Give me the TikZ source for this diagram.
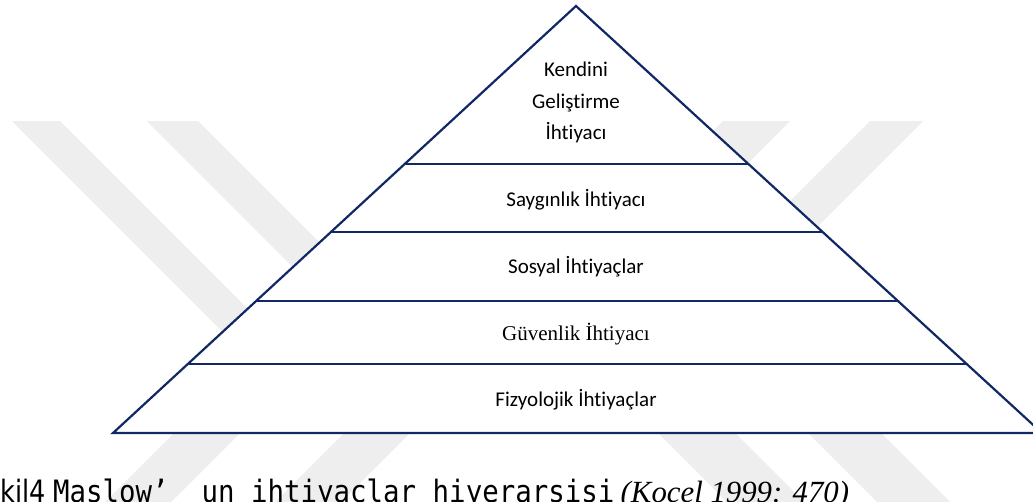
\documentclass[tikz,border=0pt]{standalone}
\usepackage{fontspec}
\usetikzlibrary{calc}
\setmainfont[Ligatures=NoCommon]{Carlito}
\newfontfamily\trfont{Liberation Serif}
\newfontfamily\capmono{DejaVu Sans Mono}
\newfontfamily\capsans{DejaVu Sans}
\definecolor{navy}{RGB}{16,40,100}
\definecolor{wmark}{RGB}{238,238,238}

\begin{document}
\begin{tikzpicture}[x=1pt,y=-1pt,
  tier/.style={font=\fontsize{21}{31.5}\selectfont, text=black, inner sep=0pt, align=center},
  edge/.style={draw=navy, line width=2.2pt, line join=miter},
  band/.style={fill=wmark, draw=none},
  captxt/.style={anchor=base, inner sep=0pt}]
\useasboundingbox (0,0) rectangle (1033,501);
\fill[white] (0,0) rectangle (1033,501);

% faint background mark: diagonal bands
\begin{scope}
  \clip (0,121) rectangle (1033,501);
  \fill[band] (12,121)  -- (60,121)  -- ++(300,300) -- ++(-48,0) -- cycle;
  \fill[band] (147,121) -- (198,121) -- ++(250,250) -- ++(-51,0) -- cycle;
  \fill[band] (723,121) -- (790,121) -- ++(-120,120) -- ++(-67,0) -- cycle;
  \fill[band] (870,121) -- (923,121) -- ++(-150,150) -- ++(-53,0) -- cycle;
  \fill[band] (182,425) -- (248,425) -- ++(-90,90) -- ++(-66,0) -- cycle;
  \fill[band] (352,425) -- (418,425) -- ++(-90,90) -- ++(-66,0) -- cycle;
  \fill[band] (650,425) -- (727,425) -- ++(90,90) -- ++(-77,0) -- cycle;
  \fill[band] (800,425) -- (873,425) -- ++(90,90) -- ++(-73,0) -- cycle;
\end{scope}

% pyramid outline
\coordinate (apex) at (576,6);
\coordinate (bl) at (113,433);
\coordinate (br) at (1042,433);
\filldraw[fill=white, edge] (apex) -- (bl) -- (br) -- cycle;

% tier boundaries
\foreach \t in {0.370,0.5293,0.6909,0.8384}
  \draw[edge] ($(apex)!\t!(bl)$) -- ($(apex)!\t!(br)$);

% tier labels
\node[tier] (self) at (576,102.5) {Kendini\\Geliştirme\\İhtiyacı};
\node[tier] (esteem) at (576,199.3) {Saygınlık İhtiyacı};
\node[tier] (social) at (576,266.3) {Sosyal İhtiyaçlar};
\node[tier, font=\trfont\fontsize{21}{25}\selectfont] (safety) at (576,334) {Güvenlik İhtiyacı};
\node[tier] (physio) at (576,400) {Fizyolojik İhtiyaçlar};

% caption
\node[captxt, anchor=base east] (capnum) at (46,502.5)
  {\scalebox{0.83}[1]{\capsans\fontsize{30.8}{36}\selectfont Şekil4}};
\node[captxt, anchor=base west] (capt) at (53,502.5)
  {\scalebox{0.89}[1]{\capmono\fontsize{30.8}{36}\selectfont Maslow’\ \ un ihtiyaçlar hiyerarşisi}};
\node[captxt, anchor=base west, font=\trfont\itshape\fontsize{30.8}{36}\selectfont] (cite)
  at ([xshift=6pt]capt.base east) {(Koçel 1999: 470)};
\end{tikzpicture}
\end{document}
